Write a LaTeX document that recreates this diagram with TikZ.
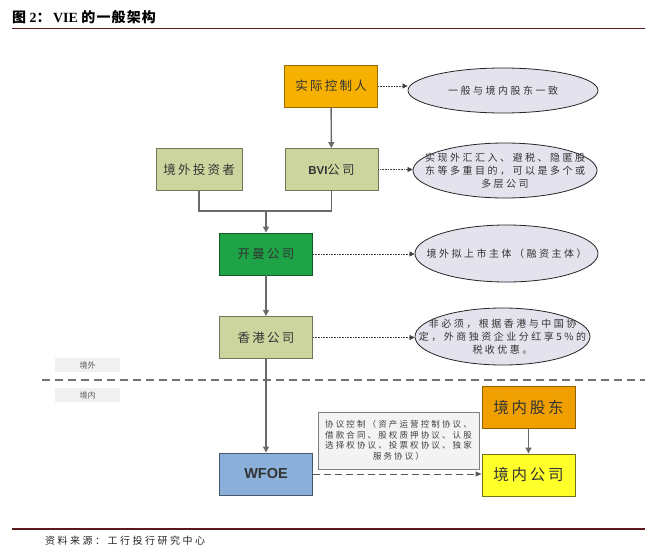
\documentclass[tikz,border=0pt]{standalone}
\usepackage{fontspec}
\usetikzlibrary{arrows.meta,shapes.geometric}
\setmainfont{Liberation Serif}
\setsansfont{Liberation Sans}
\newfontfamily\cjk{Noto Sans CJK SC}
\newfontfamily\cjktl[LetterSpace=8]{Noto Sans CJK SC}
\newfontfamily\cjksp[LetterSpace=25]{Noto Sans CJK SC}
\newfontfamily\cjkbx[LetterSpace=18]{Noto Sans CJK SC}
\definecolor{titlered}{HTML}{5A1A1E}
\definecolor{linegray}{HTML}{6A6A6A}
\definecolor{orangeA}{HTML}{F6B000}
\definecolor{orangeB}{HTML}{EFA000}
\definecolor{paleg}{HTML}{CDD59F}
\definecolor{darkg}{HTML}{1FA347}
\definecolor{wblue}{HTML}{8AB0DA}
\definecolor{yel}{HTML}{FFFF2A}
\definecolor{ellfill}{HTML}{E4E2EC}
\definecolor{agrfill}{HTML}{F3F3F3}
\definecolor{txt}{HTML}{333333}
\begin{document}
\begin{tikzpicture}[x=1pt,y=-1pt,
  box/.style={draw, rectangle, inner sep=0pt, minimum width=93pt, minimum height=42pt,
    line width=0.9pt, align=center, text=txt, font=\cjkbx\fontsize{12.5}{14}\selectfont},
  bigbox/.style={box, font=\cjkbx\fontsize{15.5}{17}\selectfont},
  oval/.style={ellipse, draw=black!85, fill=ellfill, line width=0.8pt, inner sep=0pt},
  ovaltext/.style={align=center, inner sep=0pt, text=txt, font=\cjksp\fontsize{10}{13}\selectfont},
  link/.style={draw=linegray, line width=1.4pt},
  tipA/.style={-{Triangle[length=6pt,width=6pt]}},
  dotarrow/.style={draw=black!75, line width=0.6pt, densely dotted, -{Triangle[length=5pt,width=5pt]}},
  zone/.style={fill=black!6, inner sep=0pt, minimum width=65pt, minimum height=14pt,
    text=black!65, font=\cjk\fontsize{8}{9}\selectfont}
]
\useasboundingbox (0,0) rectangle (657,555);
\fill[white] (0,0) rectangle (657,555);

% title and rules
\node[anchor=west, inner sep=0pt, text=black] (title) at (12,17)
  {\fontsize{14}{16}\selectfont{\cjktl\bfseries 图} {\rmfamily\bfseries 2}{\cjktl\bfseries ：}\,{\rmfamily\bfseries VIE} {\cjktl\bfseries 的一般架构}};
\coordinate (tl) at (12,28.5);
\coordinate (tr) at (645,28.5);
\draw[titlered, line width=1.2pt] (tl) -- (tr);
\coordinate (bl) at (12,529);
\coordinate (br) at (645,529);
\draw[titlered, line width=1.4pt] (bl) -- (br);
\node[anchor=west, inner sep=0pt, text=black!85] (src) at (45,541)
  {\cjksp\fontsize{10}{12}\selectfont 资料来源：工行投行研究中心};

% boxes
\node[box, fill=orangeA, draw=orangeA!60!black] (ctrl) at (331,86) {实际控制人};
\node[box, fill=paleg, draw=paleg!55!black] (bvi) at (331.5,169.5)
  {{\sffamily\bfseries\fontsize{11.5}{13}\selectfont BVI}公司};
\node[box, fill=paleg, draw=paleg!55!black, minimum width=86pt] (inv) at (199,169.5) {境外投资者};
\node[box, fill=darkg, draw=darkg!55!black] (cay) at (266,254) {开曼公司};
\node[box, fill=paleg, draw=paleg!55!black] (hk) at (266,337.5) {香港公司};
\node[box, fill=wblue, draw=wblue!50!black] (wfoe) at (266,474)
  {{\sffamily\bfseries\fontsize{14.5}{16}\selectfont WFOE}};
\node[bigbox, fill=orangeB, draw=orangeB!60!black] (sh) at (528.5,407.5) {境内股东};
\node[bigbox, fill=yel, draw=yel!45!black] (dc) at (528.5,475) {境内公司};
\node[draw=black!50, fill=agrfill, line width=0.8pt, minimum width=161pt, minimum height=57pt,
  inner sep=0pt, align=center, text=black!75, font=\cjksp\fontsize{8.5}{10.5}\selectfont] (agr) at (398.5,440.5)
  {协议控制（资产运营控制协议、\\借款合同、股权质押协议、认股\\选择权协议、投票权协议、独家\\服务协议）};

% ellipses
\node[oval, minimum width=190pt, minimum height=45pt] (e1) at (503,90.5) {};
\node[ovaltext] (e1t) at (e1.center) {一般与境内股东一致};
\node[oval, minimum width=184pt, minimum height=55pt] (e2) at (505,170.5) {};
\node[ovaltext] (e2t) at (e2.center) {实现外汇汇入、避税、隐匿股\\东等多重目的，可以是多个或\\多层公司};
\node[oval, minimum width=183pt, minimum height=57pt] (e3) at (506.5,253.5) {};
\node[ovaltext] (e3t) at (e3.center) {境外拟上市主体（融资主体）};
\node[oval, minimum width=175pt, minimum height=57pt] (e4) at (502.5,336.5) {};
\node[ovaltext] (e4t) at (e4.center) {非必须，根据香港与中国协\\定，外商独资企业分红享5\%的\\税收优惠。};

% zone divider
\coordinate (dl) at (42,380);
\coordinate (dr) at (645,380);
\draw[black!55, line width=1.3pt, dash pattern=on 8pt off 5pt] (dl) -- (dr);
\node[zone] (out) at (87.5,365) {境外};
\node[zone] (in) at (87.5,395) {境内};

% connectors
\draw[link, tipA] (ctrl) -- (bvi);
\coordinate (jn) at (266,211);
\draw[link] (inv.south) |- (jn) -| (bvi.south);
\draw[link, tipA] (jn) -- (cay.north);
\draw[link, tipA] (cay) -- (hk);
\draw[link, tipA] (hk) -- (wfoe);
\draw[link, tipA] (sh) -- (dc);
\draw[draw=black!65, line width=1pt, dash pattern=on 7pt off 4pt, -{Triangle[length=6pt,width=5pt]}]
  (wfoe.east) -- (wfoe.east -| dc.west);

\draw[dotarrow] (ctrl.east) -- (ctrl.east -| e1.west);
\draw[dotarrow] (bvi.east) -- (bvi.east -| e2.west);
\draw[dotarrow] (cay.east) -- (cay.east -| e3.west);
\draw[dotarrow] (hk.east) -- (hk.east -| e4.west);
\end{tikzpicture}
\end{document}
